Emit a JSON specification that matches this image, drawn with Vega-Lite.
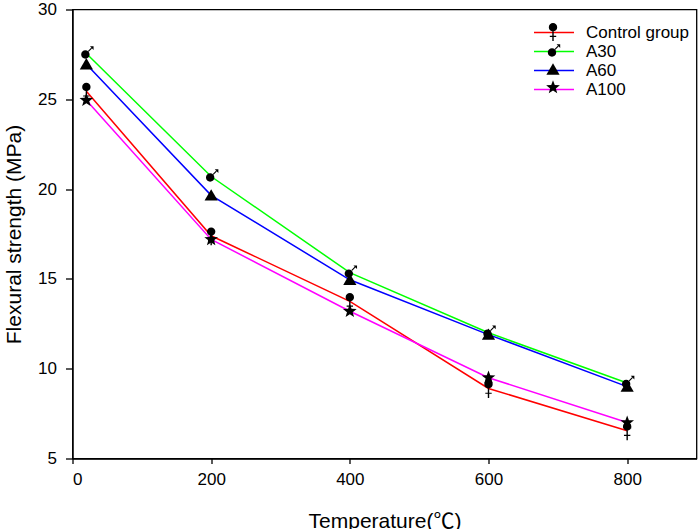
{
  "$schema": "https://vega.github.io/schema/vega-lite/v6.json",
  "width": 624,
  "height": 449,
  "autosize": {"type": "none"},
  "padding": {"left": 72.5, "top": 9.5, "right": 2.5, "bottom": 70.5},
  "background": "white",
  "config": {
    "font": "Liberation Sans",
    "view": {"stroke": "black", "strokeWidth": 1.3},
    "axis": {
      "grid": false,
      "domainColor": "black",
      "domainWidth": 1.3,
      "tickColor": "black",
      "tickWidth": 1.3,
      "labelColor": "black",
      "labelFontSize": 17,
      "labelFont": "Liberation Sans",
      "titleFontSize": 21,
      "titleFontWeight": "normal",
      "titleColor": "black",
      "titleFont": "Liberation Sans, Noto Sans CJK SC"
    }
  },
  "data": {
    "values": [
      {"group": "Control group", "temp": 20, "strength": 25.45},
      {"group": "Control group", "temp": 200, "strength": 17.4},
      {"group": "Control group", "temp": 400, "strength": 13.75},
      {"group": "Control group", "temp": 600, "strength": 8.9},
      {"group": "Control group", "temp": 800, "strength": 6.55},
      {"group": "A30", "temp": 20, "strength": 27.55},
      {"group": "A30", "temp": 200, "strength": 20.7},
      {"group": "A30", "temp": 400, "strength": 15.35},
      {"group": "A30", "temp": 600, "strength": 12.0},
      {"group": "A30", "temp": 800, "strength": 9.2},
      {"group": "A60", "temp": 20, "strength": 26.95},
      {"group": "A60", "temp": 200, "strength": 19.65},
      {"group": "A60", "temp": 400, "strength": 14.95},
      {"group": "A60", "temp": 600, "strength": 11.9},
      {"group": "A60", "temp": 800, "strength": 9.0},
      {"group": "A100", "temp": 20, "strength": 24.95},
      {"group": "A100", "temp": 200, "strength": 17.2},
      {"group": "A100", "temp": 400, "strength": 13.2},
      {"group": "A100", "temp": 600, "strength": 9.5},
      {"group": "A100", "temp": 800, "strength": 7.0}
    ]
  },
  "encoding": {
    "x": {
      "field": "temp",
      "type": "quantitative",
      "scale": {"domain": [0, 900], "nice": false},
      "axis": {
        "values": [0, 200, 400, 600, 800],
        "title": "Temperature(℃)",
        "tickSize": 5,
        "labelPadding": 8,
        "titleX": 312,
        "titleY": 69,
        "titleBaseline": "alphabetic"
      }
    },
    "y": {
      "field": "strength",
      "type": "quantitative",
      "scale": {"domain": [5, 30], "nice": false, "zero": false},
      "axis": {
        "values": [5, 10, 15, 20, 25, 30],
        "title": "Flexural strength (MPa)",
        "tickSize": 7,
        "labelPadding": 9,
        "titleX": -52,
        "titleY": 224.5,
        "titleBaseline": "alphabetic"
      }
    }
  },
  "layer": [
    {
      "mark": {"type": "line", "strokeWidth": 1.5},
      "encoding": {
        "color": {
          "field": "group",
          "type": "nominal",
          "scale": {
            "domain": ["Control group", "A30", "A60", "A100"],
            "range": ["#ff0000", "#00ff00", "#0000ff", "#ff00ff"]
          },
          "legend": {
            "orient": "none",
            "legendX": 470.5,
            "legendY": 12,
            "title": null,
            "symbolType": "M -2 0 L 2 0",
            "symbolSize": 400,
            "symbolStrokeWidth": 1.5,
            "labelFontSize": 17,
            "labelColor": "black",
            "labelOffset": 21,
            "padding": 0,
            "rowPadding": -1
          }
        }
      }
    },
    {
      "mark": {"type": "point", "filled": true, "color": "black", "opacity": 1, "strokeWidth": 0, "size": 400},
      "encoding": {
        "shape": {
          "field": "group",
          "type": "nominal",
          "scale": {
            "domain": ["Control group", "A30", "A60", "A100"],
            "range": [
              "M-0.42,-0.42A0.42,0.42,0,1,1,0.42,-0.42A0.42,0.42,0,1,1,-0.42,-0.42Z M-0.07,-0.05L0.07,-0.05L0.07,0.95L-0.07,0.95Z M-0.32,0.42L0.32,0.42L0.32,0.54L-0.32,0.54Z",
              "M-0.52,0.1A0.42,0.42,0,1,1,0.32,0.1A0.42,0.42,0,1,1,-0.52,0.1Z M0.16,-0.26L0.48,-0.58L0.56,-0.5L0.24,-0.18Z M0.36,-0.72L0.72,-0.72L0.72,-0.36Z",
              "M0,-0.62L0.66,0.52L-0.66,0.52Z",
              "M0,-0.72L0.176,-0.243L0.685,-0.222L0.285,0.093L0.423,0.582L0,0.3L-0.423,0.582L-0.285,0.093L-0.685,-0.222L-0.176,-0.243Z"
            ]
          },
          "legend": {
            "orient": "none",
            "legendX": 470.5,
            "legendY": 12,
            "title": null,
            "symbolSize": 400,
            "symbolFillColor": "black",
            "symbolStrokeWidth": 0,
            "symbolOpacity": 1,
            "labelFontSize": 17,
            "labelExpr": "''",
            "labelOffset": 21,
            "padding": 0,
            "rowPadding": -1
          }
        }
      }
    }
  ],
  "resolve": {"legend": {"color": "independent", "shape": "independent"}}
}
